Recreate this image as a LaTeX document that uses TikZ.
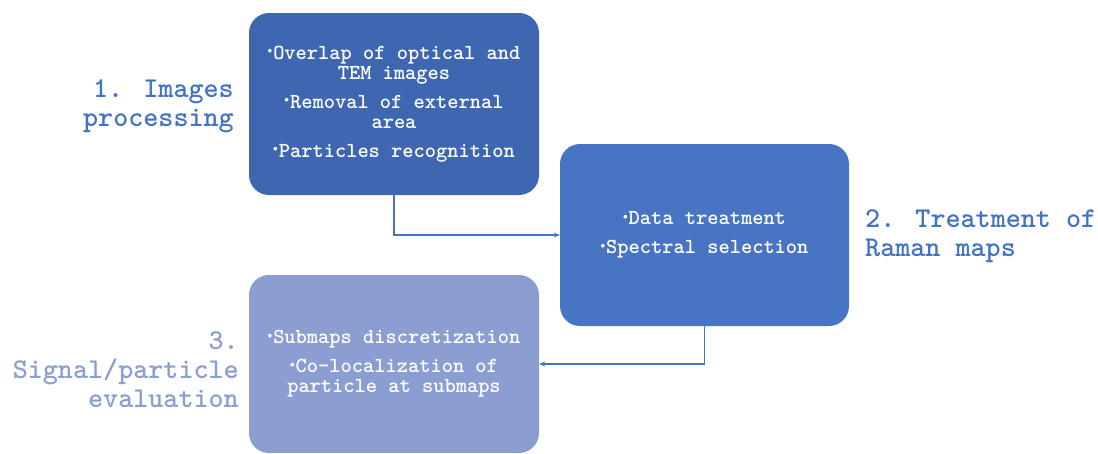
\documentclass[tikz,border=0pt]{standalone}
\usepackage{fontspec}
\newfontfamily\stagefont{lmmonolt10-bold.otf}
\usetikzlibrary{positioning, arrows.meta}

\definecolor{stepone}{HTML}{3E66B1}
\definecolor{steptwo}{HTML}{4775C4}
\definecolor{stepthree}{HTML}{8A9ED1}
\definecolor{linkblue}{HTML}{4472C4}

\newcommand{\itm}{\raisebox{5.5pt}{\scalebox{0.45}{$\bullet$}}\hspace{1pt}}

\begin{document}
\begin{tikzpicture}[
  x=1pt, y=-1pt,
  stagebox/.style={
    rectangle, rounded corners=20pt, draw=none,
    minimum width=290pt, inner sep=0pt, align=center,
    text=white, font=\stagefont\fontsize{21.4}{20}\selectfont
  },
  stagelabel/.style={
    inner sep=0pt, font=\stagefont\fontsize{28.7}{29}\selectfont
  },
  link/.style={-{Stealth[length=6pt, width=5pt]}, linkblue, line width=1.4pt},
]
\useasboundingbox (0,0) rectangle (1098,453);

%% ── Stage boxes ──────────────────────────────────────────────────────────────
\node[stagebox, fill=stepone, minimum height=182pt] (images) at (394, 104) {%
  \itm Overlap of optical and\\
  TEM images\\[9pt]
  \itm Removal of external\\
  area\\[9pt]
  \itm Particles recognition
};

\node[stagebox, fill=steptwo, minimum width=289pt, minimum height=182pt] (raman) at (704.5, 235) {%
  \itm Data treatment\\[9pt]
  \itm Spectral selection
};

\node[stagebox, fill=stepthree, minimum height=178pt] (signal) at (394, 364) {%
  \itm Submaps discretization\\[9pt]
  \itm Co-localization of\\
  particle at submaps
};

%% ── Stage labels ─────────────────────────────────────────────────────────────
\node[stagelabel, text=linkblue, align=right, anchor=east] (lblimages) at (234, 106) {%
  1. Images\\processing};
\node[stagelabel, text=linkblue, align=left, anchor=west] (lblraman) at (865, 236) {%
  2. Treatment of\\Raman maps};
\node[stagelabel, text=stepthree, align=right, anchor=east] (lblsignal) at (239, 370) {%
  3.\\Signal/particle\\evaluation};

%% ── Arrows ───────────────────────────────────────────────────────────────────
\draw[link] (images.south) |- (raman.west);
\draw[link] (raman.south) |- (signal.east);

\end{tikzpicture}
\end{document}
